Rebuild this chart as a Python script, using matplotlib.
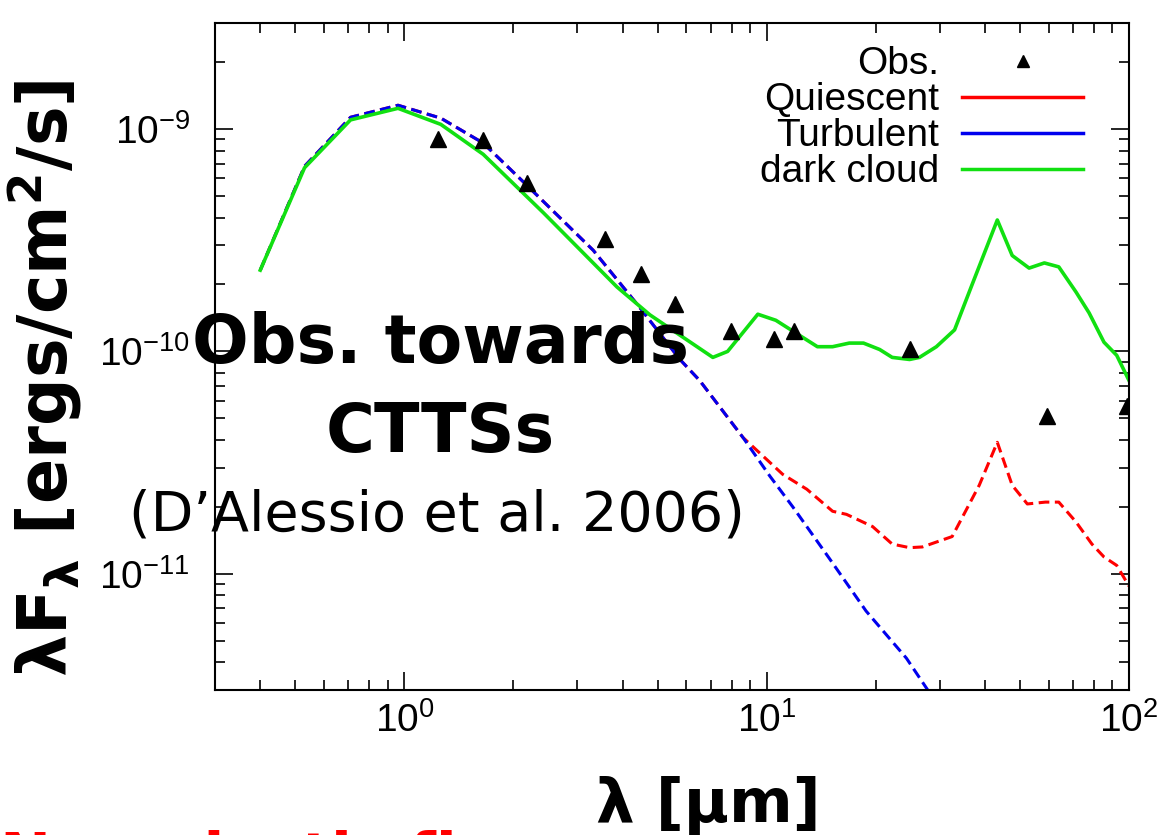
import numpy as np
import matplotlib
matplotlib.use('Agg')
import matplotlib.pyplot as plt
from matplotlib.lines import Line2D
from matplotlib.ticker import NullFormatter

plt.rcParams['font.family'] = ['Liberation Sans', 'DejaVu Sans']
plt.rcParams['axes.unicode_minus'] = False

# observed SED (micron, erg/cm2/s)
wl_obs = [1.24, 1.65, 2.18, 3.58, 4.5, 5.58, 7.96, 10.5, 11.9, 24.9, 59.4, 98.7]
f_obs = [9.0e-10, 8.9e-10, 5.7e-10, 3.2e-10, 2.24e-10, 1.63e-10, 1.24e-10,
         1.14e-10, 1.24e-10, 1.03e-10, 5.1e-11, 5.7e-11]

# model: turbulent disk
wl_turb = [0.40, 0.53, 0.71, 0.96, 1.26, 1.65, 2.15, 3.32, 4.47, 5.76, 6.53,
           8.6, 10.2, 11.8, 14.9, 18.8, 24.3, 27.6, 35.0]
f_turb = [2.32e-10, 6.8e-10, 1.13e-9, 1.28e-9, 1.12e-9, 8.65e-10, 5.7e-10,
          2.85e-10, 1.57e-10, 9.2e-11, 7.4e-11, 4.1e-11, 2.75e-11, 2.0e-11,
          1.17e-11, 6.8e-12, 4.17e-12, 3.06e-12, 1.7e-12]

# model: quiescent disk
wl_quie = [0.40, 0.53, 0.71, 0.96, 1.26, 1.65, 2.15, 3.32, 4.47, 5.76, 6.53,
           8.6, 11.07, 12.9, 15.2, 16.6, 19.6, 22.2, 24.8, 26.9, 32.5, 38.6,
           43.3, 47.6, 52.4, 58.8, 64.0, 71.4, 79.0, 85.3, 92.5, 100.0]
f_quie = [2.32e-10, 6.8e-10, 1.13e-9, 1.28e-9, 1.12e-9, 8.65e-10, 5.7e-10,
          2.85e-10, 1.57e-10, 9.2e-11, 7.4e-11, 4.1e-11, 2.8e-11, 2.4e-11,
          1.91e-11, 1.85e-11, 1.63e-11, 1.36e-11, 1.31e-11, 1.32e-11, 1.47e-11,
          2.5e-11, 3.9e-11, 2.5e-11, 2.06e-11, 2.1e-11, 2.1e-11, 1.71e-11,
          1.36e-11, 1.19e-11, 1.09e-11, 8.8e-12]

# model: dark cloud dust
wl_dark = [0.40, 0.53, 0.71, 0.96, 1.26, 1.65, 2.42, 3.86, 4.76, 7.1, 7.8,
           9.45, 10.6, 13.8, 15.2, 16.9, 18.5, 20.5, 22.2, 24.8, 26.4, 29.4,
           33.0, 36.9, 43.3, 47.6, 53.0, 58.4, 64.0, 71.4, 77.6, 85.3, 92.5,
           100.0]
f_dark = [2.32e-10, 6.7e-10, 1.10e-9, 1.24e-9, 1.05e-9, 7.7e-10, 4.2e-10,
          1.95e-10, 1.46e-10, 9.4e-11, 1.0e-10, 1.47e-10, 1.38e-10, 1.05e-10,
          1.05e-10, 1.09e-10, 1.09e-10, 1.02e-10, 9.4e-11, 9.2e-11, 9.4e-11,
          1.05e-10, 1.25e-10, 2.0e-10, 3.9e-10, 2.7e-10, 2.37e-10, 2.5e-10,
          2.4e-10, 1.85e-10, 1.49e-10, 1.1e-10, 9.6e-11, 7.4e-11]

labels = ['Obs.', 'Quiescent', 'Turbulent', 'dark cloud']
c_red, c_blue, c_green = '#ff0000', '#0000ee', '#11e011'

W, H = 1159, 835
fig = plt.figure(figsize=(W / 100, H / 100), dpi=100)
ax = fig.add_axes([215 / W, 1 - 690 / H, 914 / W, 667 / H])

ax.plot(wl_quie, f_quie, color=c_red, lw=2.2, dashes=(3.5, 1.8))
ax.plot(wl_turb, f_turb, color=c_blue, lw=2.2, dashes=(3.5, 1.8))
ax.plot(wl_dark, f_dark, color=c_green, lw=2.6)
ax.plot(wl_obs, f_obs, ls='none', marker='^', color='k', ms=12, zorder=4)

ax.set_xscale('log')
ax.set_yscale('log')
ax.set_xlim(0.3, 100)
ax.set_ylim(3e-12, 3e-9)

for s in ax.spines.values():
    s.set_linewidth(1.5)
ax.tick_params(which='both', direction='in', top=True, right=True, width=1.2)
ax.tick_params(which='major', length=13, labelsize=28)
ax.tick_params(which='minor', length=7)
ax.tick_params(axis='x', pad=9)
ax.tick_params(axis='y', pad=18)
ax.xaxis.set_minor_formatter(NullFormatter())
ax.yaxis.set_minor_formatter(NullFormatter())

handles = [Line2D([], [], ls='none', marker='^', color='k', ms=9),
           Line2D([], [], color=c_red, lw=2.5),
           Line2D([], [], color=c_blue, lw=2.5),
           Line2D([], [], color=c_green, lw=2.5)]
ax.legend(handles, labels, loc='upper right', bbox_to_anchor=(0.9497, 0.965),
          frameon=False, markerfirst=False, fontsize=28, handlelength=3.1,
          handletextpad=0.6, labelspacing=0.0, borderpad=0, borderaxespad=0)

# annotations
fig.text(440 / W, 1 - 363 / H, 'Obs. towards', fontsize=48, fontweight='bold',
         family='DejaVu Sans', ha='center', va='baseline')
fig.text(440 / W, 1 - 452 / H, 'CTTSs', fontsize=48, fontweight='bold',
         family='DejaVu Sans', ha='center', va='baseline')
fig.text(437 / W, 1 - 530 / H, '(D\u2019Alessio et al. 2006)', fontsize=40,
         family='DejaVu Sans', ha='center', va='baseline')

# axis labels
fig.text(45 / W, 1 - 378 / H, r'λF$_{\mathbf{λ}}$ [ergs/cm$^{\mathbf{2}}$/s]',
         rotation=90, fontsize=48, fontweight='bold', family='DejaVu Sans',
         ha='center', va='center')
fig.text(708 / W, 1 - 822 / H, 'λ [μm]', fontsize=44, fontweight='bold',
         family='DejaVu Sans', ha='center', va='baseline')

# slide caption running off the bottom edge
fig.text(0, 1 - 876 / H, 'Non-elastic flow', color='red', fontsize=44,
         fontweight='bold', family='DejaVu Sans', ha='left', va='baseline')

fig.savefig('out.png', dpi=100)
